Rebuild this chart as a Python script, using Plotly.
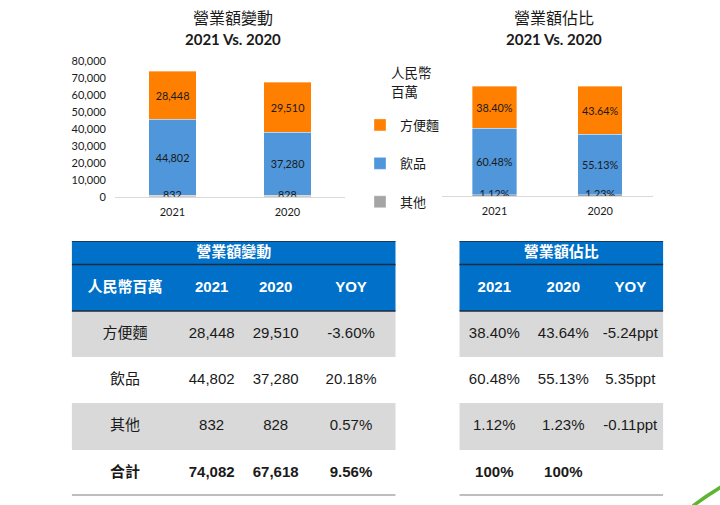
import plotly.graph_objects as go

W, H = 720, 505


def fx(px):
    return px / W


def fy(py):
    return 1 - py / H


# ---------------- data ----------------
categories = ["2021", "2020"]
segments = ["方便麵", "飲品", "其他"]
noodle = [28448, 29510]
drink = [44802, 37280]
other = [832, 828]
totals = [74082, 67618]
noodle_pct = [38.40, 43.64]
drink_pct = [60.48, 55.13]
other_pct = [1.12, 1.23]
yoy_amount = ["-3.60%", "20.18%", "0.57%", "9.56%"]
yoy_share = ["-5.24ppt", "5.35ppt", "-0.11ppt", ""]
total_share = ["100%", "100%"]
amount_ticks = [0, 10000, 20000, 30000, 40000, 50000, 60000, 70000, 80000]
unit_label = "人民幣百萬"
unit_lines = ["人民幣", "百萬"]
title_amount = "營業額變動"
title_share = "營業額佔比"
subtitle = "2021 Vs. 2020"

# ---------------- styles ----------------
ORANGE = "#FF7F00"
BLUE = "#4F96DA"
GREY = "#A5A5A5"
HEAD_BLUE = "#0070C8"
ROW_GREY = "#D9D9D9"
TXT = "#1A1A1A"
LATIN = "Lato, 'Noto Sans CJK TC', sans-serif"
CJK = "'Noto Sans CJK TC', 'Noto Sans CJK SC', sans-serif"
ARIAL = "'Liberation Sans', 'Noto Sans CJK TC', sans-serif"
BAR_TXT = 10.8

fig = go.Figure()

# ---------------- left chart: amounts ----------------
series_amt = [("其他", other, GREY), ("飲品", drink, BLUE), ("方便麵", noodle, ORANGE)]
for name, vals, col in series_amt:
    fig.add_trace(go.Bar(
        x=categories, y=vals, name=name,
        marker=dict(color=col, line=dict(width=0.6, color="rgba(255,255,255,0.6)")),
        text=None if name == "其他" else [f"{v:,}" for v in vals],
        textposition="inside", insidetextanchor="middle", textangle=0,
        textfont=dict(family=LATIN, size=BAR_TXT, color=TXT),
        showlegend=False, xaxis="x", yaxis="y", hoverinfo="skip", width=0.41,
    ))
fig.add_trace(go.Scatter(
    x=categories, y=[v / 2 for v in other], mode="text",
    text=[f"{v:,}" for v in other], textposition="middle center",
    textfont=dict(family=LATIN, size=BAR_TXT, color=TXT),
    showlegend=False, xaxis="x", yaxis="y", hoverinfo="skip",
))

# ---------------- right chart: shares ----------------
series_pct = [("其他", other_pct, GREY, 3), ("飲品", drink_pct, BLUE, 2), ("方便麵", noodle_pct, ORANGE, 1)]
for name, vals, col, rank in series_pct:
    fig.add_trace(go.Bar(
        x=categories, y=vals, name=name,
        marker=dict(color=col, line=dict(width=0.6, color="rgba(255,255,255,0.6)")),
        text=None if name == "其他" else [f"{v:.2f}%" for v in vals],
        textposition="inside", insidetextanchor="middle", textangle=0,
        textfont=dict(family=LATIN, size=BAR_TXT, color=TXT),
        showlegend=True, legendgroup=name, legendrank=rank,
        xaxis="x2", yaxis="y2", hoverinfo="skip", width=0.42,
    ))
fig.add_trace(go.Scatter(
    x=categories, y=[v / 2 for v in other_pct], mode="text",
    text=[f"{v:.2f}%" for v in other_pct], textposition="middle center",
    textfont=dict(family=LATIN, size=BAR_TXT, color=TXT),
    showlegend=False, xaxis="x2", yaxis="y2", hoverinfo="skip",
))

# ---------------- tables ----------------
table_left = dict(
    left=71.7, right=395.7, top=241, bottom=495.5,
    col_edges=[0, 106.6, 173.3, 234.7, 324],
    header=[unit_label, categories[0], categories[1], "YOY"],
    title=title_amount,
    rows=[
        [segments[0], f"{noodle[0]:,}", f"{noodle[1]:,}", yoy_amount[0]],
        [segments[1], f"{drink[0]:,}", f"{drink[1]:,}", yoy_amount[1]],
        [segments[2], f"{other[0]:,}", f"{other[1]:,}", yoy_amount[2]],
        ["合計", f"{totals[0]:,}", f"{totals[1]:,}", yoy_amount[3]],
    ],
)
table_right = dict(
    left=459.3, right=663.3, top=241, bottom=495.5,
    col_edges=[0, 70, 138, 204],
    header=[categories[0], categories[1], "YOY"],
    title=title_share,
    rows=[
        [f"{noodle_pct[0]:.2f}%", f"{noodle_pct[1]:.2f}%", yoy_share[0]],
        [f"{drink_pct[0]:.2f}%", f"{drink_pct[1]:.2f}%", yoy_share[1]],
        [f"{other_pct[0]:.2f}%", f"{other_pct[1]:.2f}%", yoy_share[2]],
        [total_share[0], total_share[1], yoy_share[3]],
    ],
)
row_edges = [0, 23.5, 70, 116, 162, 209, 254.5]
row_kind = [0, 0, 1, 2, 1, 2]  # 0 blue, 1 grey, 2 white

shapes = []
layout_axes = {}
for k, tb in enumerate([table_left, table_right]):
    xa, ya = f"x{3 + k}", f"y{3 + k}"
    ce = tb["col_edges"]
    ncol = len(ce) - 1
    centers = [(ce[i] + ce[i + 1]) / 2 for i in range(ncol)]
    rcent = [(row_edges[i] + row_edges[i + 1]) / 2 for i in range(len(row_edges) - 1)]
    fig.add_trace(go.Heatmap(
        x=ce, y=row_edges, z=[[rk] * ncol for rk in row_kind],
        zmin=0, zmax=2, showscale=False, hoverinfo="skip",
        colorscale=[[0, HEAD_BLUE], [0.5, ROW_GREY], [1, "#FFFFFF"]],
        xaxis=xa, yaxis=ya,
    ))
    fig.add_trace(go.Scatter(
        x=[ce[-1] / 2], y=[rcent[0]], mode="text", text=[f"<b>{tb['title']}</b>"],
        textfont=dict(family=ARIAL, size=15, color="white"), textposition="middle center",
        showlegend=False, hoverinfo="skip", xaxis=xa, yaxis=ya,
    ))
    fig.add_trace(go.Scatter(
        x=centers, y=[rcent[1]] * ncol, mode="text", text=[f"<b>{h}</b>" for h in tb["header"]],
        textfont=dict(family=ARIAL, size=15, color="white"), textposition="middle center",
        showlegend=False, hoverinfo="skip", xaxis=xa, yaxis=ya,
    ))
    for r, row in enumerate(tb["rows"]):
        bold = r == len(tb["rows"]) - 1
        fig.add_trace(go.Scatter(
            x=centers, y=[rcent[2 + r]] * ncol, mode="text",
            text=[f"<b>{t}</b>" if bold else t for t in row],
            textfont=dict(family=ARIAL, size=15, color=TXT), textposition="middle center",
            showlegend=False, hoverinfo="skip", xaxis=xa, yaxis=ya,
        ))
    for yl in row_edges[:3]:
        shapes.append(dict(type="line", xref=xa, yref=ya, x0=ce[0], x1=ce[-1], y0=yl, y1=yl,
                           line=dict(color="#1E2B3C", width=1.6)))
    shapes.append(dict(type="line", xref=xa, yref=ya, x0=ce[0], x1=ce[-1],
                       y0=row_edges[-1], y1=row_edges[-1], line=dict(color="#7F7F7F", width=2)))
    layout_axes[f"xaxis{3 + k}"] = dict(domain=[fx(tb["left"]), fx(tb["right"])], range=[0, ce[-1]],
                                          visible=False, fixedrange=True, anchor=ya)
    layout_axes[f"yaxis{3 + k}"] = dict(domain=[fy(tb["bottom"]), fy(tb["top"])], range=[row_edges[-1], 0],
                                          visible=False, fixedrange=True, anchor=xa)

# decorative swoosh bottom-right
shapes.append(dict(type="path", xref="paper", yref="paper",
                   path=f"M {fx(693)} {fy(506)} Q {fx(706)} {fy(496)} {fx(721)} {fy(487)}",
                   line=dict(color="#5DB531", width=3.5)))

annotations = []
for cx, t in [(232.5, title_amount), (554, title_share)]:
    annotations.append(dict(x=fx(cx), y=fy(16.5), xref="paper", yref="paper", text=t, showarrow=False,
                            font=dict(family=CJK, size=16, color=TXT), xanchor="center", yanchor="middle"))
    annotations.append(dict(x=fx(cx), y=fy(39.5), xref="paper", yref="paper", text=f"<b>{subtitle}</b>",
                            showarrow=False, font=dict(family=LATIN, size=15, color=TXT),
                            xanchor="center", yanchor="middle"))
for yy, t in zip([72, 91], unit_lines):
    annotations.append(dict(x=fx(389), y=fy(yy), xref="paper", yref="paper", text=t, showarrow=False,
                            font=dict(family=CJK, size=13.5, color=TXT), xanchor="left", yanchor="middle"))

fig.update_layout(
    width=W, height=H, margin=dict(l=0, r=0, t=0, b=0, pad=0, autoexpand=False),
    paper_bgcolor="white", plot_bgcolor="white",
    barmode="stack",
    xaxis=dict(domain=[fx(115), fx(345)], anchor="y", showline=True, linecolor="#D9D9D9", linewidth=1.2,
               ticks="", ticklabelstandoff=5, tickfont=dict(family=LATIN, size=11, color=TXT),
               showgrid=False, fixedrange=True, automargin=False),
    yaxis=dict(domain=[fy(196.7), fy(61)], anchor="x", range=[0, 80000], tickvals=amount_ticks,
               tickformat=",", showgrid=False, zeroline=False, ticks="", ticklabelstandoff=8,
               tickfont=dict(family=LATIN, size=11, color=TXT), fixedrange=True, automargin=False),
    xaxis2=dict(domain=[fx(441.7), fx(653)], anchor="y2", showline=True, linecolor="#D9D9D9", linewidth=1.2,
                ticks="", ticklabelstandoff=5, tickfont=dict(family=LATIN, size=11, color=TXT),
                showgrid=False, fixedrange=True, automargin=False),
    yaxis2=dict(domain=[fy(196), fy(86)], anchor="x2", range=[0, 100], visible=False, fixedrange=True),
    legend=dict(x=fx(360), y=fy(110), xanchor="left", yanchor="top", traceorder="grouped",
                tracegroupgap=18.5, font=dict(family=CJK, size=13, color=TXT), bgcolor="rgba(0,0,0,0)"),
    shapes=shapes, annotations=annotations,
    **layout_axes,
)

fig.write_html("out.html", config={"displayModeBar": False},
               post_script="document.body.style.margin='0';")
